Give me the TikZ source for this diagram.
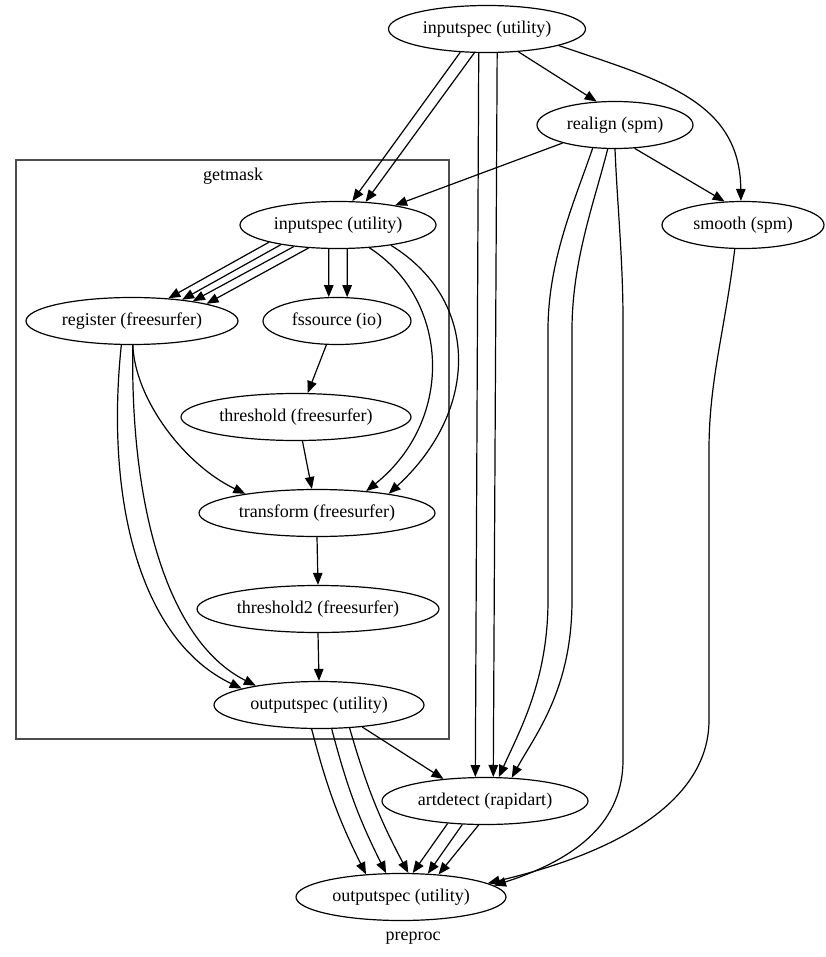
\documentclass[tikz,border=0pt]{standalone}
\usepackage{fontspec}
\setmainfont{Liberation Serif}
\usetikzlibrary{arrows.meta, shapes.geometric}
\definecolor{clustergray}{HTML}{4D4D4D}
\tikzset{
  proc/.style={ellipse, draw, line width=1.2pt, minimum height=47pt,
               inner sep=0pt, font=\fontsize{18}{21}\selectfont},
  lbl/.style={font=\fontsize{18}{21}\selectfont},
  edge/.style={-{Triangle[length=12pt, width=9.5pt]}, line width=1.2pt},
}

\begin{document}
\begin{tikzpicture}[x=1pt, y=-1pt]
  \useasboundingbox (0,0) rectangle (826,957);

  % getmask cluster
  \draw[line width=1.3pt, color=clustergray] (16,160) rectangle (449,739);
  \node[lbl] (getmask) at (233,176) {getmask};
  \node[lbl] (preproc) at (413,938) {preproc};

  % nodes
  \node[proc, minimum width=197pt] (in0) at (487,29) {inputspec (utility)};
  \node[proc, minimum width=156pt] (realign) at (615,125) {realign (spm)};
  \node[proc, minimum width=196pt] (in1) at (338,225) {inputspec (utility)};
  \node[proc, minimum width=162pt] (smooth) at (743,225) {smooth (spm)};
  \node[proc, minimum width=212pt] (register) at (132,321) {register (freesurfer)};
  \node[proc, minimum width=148pt] (fssource) at (337,321) {fssource (io)};
  \node[proc, minimum width=230pt] (threshold) at (296,417) {threshold (freesurfer)};
  \node[proc, minimum width=236pt] (transform) at (317,513) {transform (freesurfer)};
  \node[proc, minimum width=242pt] (threshold2) at (318,609) {threshold2 (freesurfer)};
  \node[proc, minimum width=210pt] (outinner) at (319,705) {outputspec (utility)};
  \node[proc, minimum width=206pt] (artdetect) at (485,801) {artdetect (rapidart)};
  \node[proc, minimum width=210pt] (outfinal) at (401,897) {outputspec (utility)};

  % edges of the outer graph
  \foreach \a/\b in {-139/59, -118/40}
    \draw[edge] (in0.\a) -- (in1.\b);
  \foreach \a/\b in {-109/112, -67/71}
    \draw[edge] (in0.\a) -- (artdetect.\b);
  \draw[edge] (in0.-36) -- (realign.128);
  \draw[edge] (in0.-13) .. controls (660,80) and (740,100) .. (smooth.95);
  \draw[edge] (realign.-161) -- (in1.19);
  \draw[edge] (realign.-50) -- (smooth.128);
  \draw[edge] (realign.-134) .. controls (575,200) and (548,260) .. (548,330)
    -- (548,600) .. controls (548,680) and (520,730) .. (artdetect.60);
  \draw[edge] (realign.-107) .. controls (595,200) and (572,260) .. (572,330)
    -- (572,600) .. controls (572,690) and (535,735) .. (artdetect.41);
  \draw[edge] (realign.-90) .. controls (617,200) and (623,260) .. (623,320)
    -- (623,760) .. controls (623,820) and (580,858) .. (outfinal.7);
  \draw[edge] (smooth.-109) .. controls (725,330) and (709,380) .. (709,450)
    -- (709,720) .. controls (709,800) and (620,852) .. (outfinal.9);

  % edges inside getmask
  \foreach \a/\b in {-166/32, -161/23, -154/18, -142/13}
    \draw[edge] (in1.\a) -- (register.\b);
  \foreach \a/\b in {-111/109, -69/67}
    \draw[edge] (in1.\a) -- (fssource.\b);
  \draw[edge] (in1.-36) .. controls (450,300) and (455,420) .. (transform.24);
  \draw[edge] (in1.-21) .. controls (480,300) and (480,410) .. (transform.15);
  \draw[edge] (register.-88) .. controls (135,400) and (185,465) .. (transform.165);
  \draw[edge] (register.-114) .. controls (105,500) and (140,640) .. (outinner.168);
  \draw[edge] (register.-88) .. controls (130,500) and (165,640) .. (outinner.163);
  \draw[edge] (fssource.-114) -- (threshold.64);
  \draw[edge] (threshold.-75) -- (transform.102);
  \draw[edge] (transform.south) -- (threshold2.north);
  \draw[edge] (threshold2.south) -- (outinner.north);

  % edges to the final outputspec
  \foreach \a/\b in {-107/147, -62/122, -37/73}
    \draw[edge] (outinner.\a) to[bend right=6] (outfinal.\b);
  \draw[edge] (outinner.-27) -- (artdetect.152);
  \foreach \a/\b in {-149/64, -134/41, -105/31}
    \draw[edge] (artdetect.\a) -- (outfinal.\b);
\end{tikzpicture}
\end{document}
